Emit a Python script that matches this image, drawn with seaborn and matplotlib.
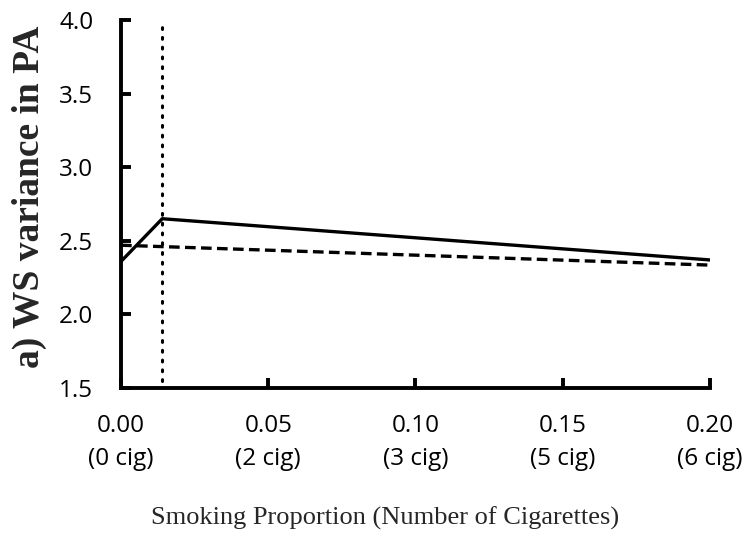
import matplotlib
matplotlib.use("Agg")
import matplotlib.pyplot as plt
import seaborn as sns
import pandas as pd

# Model-implied within-subject variance of positive affect
smoking_prop = [0.0, 0.014, 0.20]
ws_var_solid = [2.36, 2.65, 2.37]
dashed_prop = [0.0, 0.20]
ws_var_dashed = [2.47, 2.335]
threshold = 0.014

xticks = [0.00, 0.05, 0.10, 0.15, 0.20]
xtick_labels = ["0.00\n(0 cig)", "0.05\n(2 cig)", "0.10\n(3 cig)",
                "0.15\n(5 cig)", "0.20\n(6 cig)"]
yticks = [1.5, 2.0, 2.5, 3.0, 3.5, 4.0]

df = pd.concat([
    pd.DataFrame({"prop": smoking_prop, "var": ws_var_solid, "model": "solid"}),
    pd.DataFrame({"prop": dashed_prop, "var": ws_var_dashed, "model": "dashed"}),
])

sns.set_theme(style="white")
plt.rcParams["font.family"] = ["Open Sans", "DejaVu Sans"]

fig = plt.figure(figsize=(7.48, 5.36), dpi=100)
ax = fig.add_axes([0.1618, 0.2761, 0.949 - 0.1618, 0.9627 - 0.2761])

sns.lineplot(data=df, x="prop", y="var", style="model",
             dashes={"solid": "", "dashed": (3.2, 1.6)},
             color="black", linewidth=2.4, legend=False, ax=ax)

ax.vlines(threshold, 1.55, 3.95, colors="black", linestyles=(0, (0.6, 2.6)),
          linewidth=2.2, capstyle="round")

ax.set_xlim(0, 0.20)
ax.set_ylim(1.5, 4.0)
ax.set_xticks(xticks)
ax.set_xticklabels(xtick_labels, linespacing=1.5)
ax.set_yticks(yticks)
ax.set_yticklabels([f"{v:.1f}" for v in yticks])

for side in ["top", "right"]:
    ax.spines[side].set_visible(False)
for side in ["left", "bottom"]:
    ax.spines[side].set_linewidth(2.8)
    ax.spines[side].set_color("black")

ax.tick_params(axis="both", direction="in", length=7, width=2.8,
               colors="black", labelsize=17.5, bottom=True, left=True)
ax.tick_params(axis="y", pad=20)
ax.tick_params(axis="x", pad=19)

ax.set_xlabel("Smoking Proportion (Number of Cigarettes)",
              fontfamily="Liberation Serif", fontsize=19)
ax.xaxis.set_label_coords(0.448, -0.322)
ax.set_ylabel("a) WS variance in PA", fontfamily="Liberation Serif",
              fontweight="bold", fontsize=27)
ax.yaxis.set_label_coords(-0.126, 0.519)

fig.savefig("out.png", dpi=100)
